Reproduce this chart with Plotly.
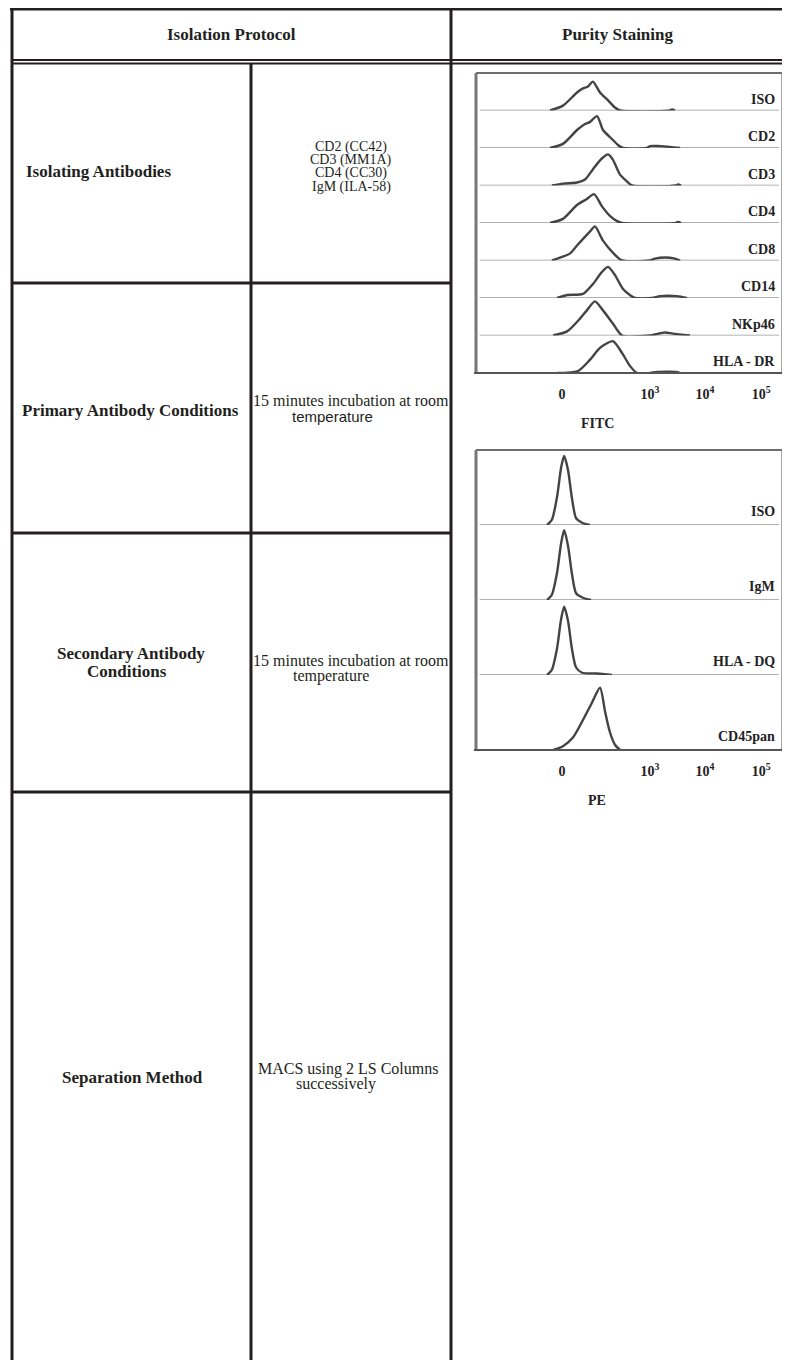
import plotly.graph_objects as go

# page offset (browser body margin) and figure size
OFF = 8
FW, FH = 782, 1352

# ---------------- data ----------------
# FITC histograms (x: display channel 0-1024, y: normalised count 0-100 per track)
fitc_labels = ["ISO", "CD2", "CD3", "CD4", "CD8", "CD14", "NKp46", "HLA - DR"]
fitc_x = [
    [248, 291, 338, 358, 375, 391, 415, 442, 465, 482, 649, 656, 666],
    [248, 291, 338, 365, 381, 405, 425, 455, 475, 492, 572, 582, 616, 649, 683],
    [254, 291, 338, 365, 391, 421, 442, 458, 482, 505, 522, 669, 676, 686],
    [248, 291, 338, 371, 395, 421, 448, 472, 489, 669, 676, 686],
    [254, 315, 338, 381, 398, 425, 458, 489, 582, 599, 632, 666, 683],
    [271, 305, 358, 391, 421, 442, 465, 492, 515, 532, 589, 616, 672, 706],
    [258, 305, 348, 371, 398, 425, 458, 489, 582, 632, 659, 716],
    [271, 341, 381, 415, 458, 489, 515, 539, 582, 606, 672, 683],
]
fitc_y = [
    [0, 13, 48, 59, 64, 77, 48, 27, 8, 0, 0, 3, 0],
    [0, 11, 48, 64, 69, 85, 48, 24, 8, 0, 0, 5, 5, 3, 0],
    [0, 5, 8, 16, 43, 72, 83, 69, 29, 11, 0, 0, 3, 0],
    [0, 11, 48, 64, 77, 45, 19, 5, 0, 0, 3, 0],
    [0, 19, 40, 77, 91, 53, 21, 0, 0, 5, 8, 5, 0],
    [0, 8, 11, 37, 69, 83, 61, 24, 8, 0, 0, 5, 5, 0],
    [0, 11, 45, 67, 91, 67, 32, 0, 0, 8, 5, 0],
    [0, 5, 35, 67, 85, 53, 19, 0, 0, 3, 3, 0],
]

# PE histograms
pe_labels = ["ISO", "IgM", "HLA - DQ", "CD45pan"]
pe_x = [
    [238, 254, 271, 285, 295, 308, 321, 335, 355, 381],
    [238, 254, 271, 285, 295, 308, 321, 335, 358, 385],
    [238, 254, 271, 285, 295, 308, 321, 335, 355, 405, 455],
    [258, 291, 325, 358, 388, 415, 432, 448, 465, 482],
]
pe_y = [
    [0, 7, 37, 77, 92, 73, 36, 9, 3, 0],
    [0, 7, 36, 76, 93, 72, 35, 9, 3, 0],
    [0, 7, 35, 75, 91, 72, 35, 10, 3, 2, 0],
    [0, 5, 17, 40, 63, 83, 51, 24, 7, 0],
]

tick_vals = [288, 582, 766, 954]
tick_text = ["<b>0</b>", "<b>10<sup>3</sup></b>", "<b>10<sup>4</sup></b>", "<b>10<sup>5</sup></b>"]
channel_range = [0, 1024]

# table text
header_left = "Isolation Protocol"
header_right = "Purity Staining"
row_titles = ["Isolating Antibodies", "Primary Antibody Conditions",
              "Secondary Antibody", "Conditions", "Separation Method"]
antibody_lines = ["CD2 (CC42)", "CD3 (MM1A)", "CD4 (CC30)", "IgM (ILA-58)"]
incubation = "15 minutes incubation at room"
temperature = "temperature"
separation = ["MACS using 2 LS Columns", "successively"]

# ---------------- helpers ----------------
def px(x):
    return (x - OFF) / FW

def py(y):
    return 1 - (y - OFF) / FH

INK = "#231f20"
SERIF = "Liberation Serif, Times New Roman, serif"
SANS = "Liberation Sans, Arial, sans-serif"

fig = go.Figure()
layout = dict(width=FW, height=FH, margin=dict(l=0, r=0, t=0, b=0),
              paper_bgcolor="white", plot_bgcolor="white", showlegend=False)

shapes = []
annotations = []

def hline(x0, x1, y, w=3, c=INK):
    shapes.append(dict(type="line", xref="paper", yref="paper", x0=px(x0), x1=px(x1),
                       y0=py(y), y1=py(y), line=dict(color=c, width=w)))

def vline(x, y0, y1, w=3, c=INK):
    shapes.append(dict(type="line", xref="paper", yref="paper", x0=px(x), x1=px(x),
                       y0=py(y0), y1=py(y1), line=dict(color=c, width=w)))

def text(x, y, s, size=16, bold=False, anchor="center", family=SERIF, color=INK):
    annotations.append(dict(xref="paper", yref="paper", x=px(x), y=py(y),
                            text=("<b>%s</b>" % s) if bold else s, showarrow=False,
                            xanchor=anchor, yanchor="middle",
                            font=dict(family=family, size=size, color=color)))

# ---------------- table ----------------
hline(10, 783, 9, 3)
hline(12, 790, 60, 2)
hline(12, 790, 63.5, 2)
vline(12, 8, 1360, 3)
vline(251, 63, 1360, 3)
vline(451, 8, 1360, 3)
for yy in [283, 533, 792]:
    hline(12, 451, yy, 3)

text(231, 35, header_left, 17, True)
text(617, 35, header_right, 17, True)

text(24, 172, row_titles[0], 17, True, anchor="left")
for i, s in enumerate(antibody_lines):
    text(351, 147 + 13.2 * i, s, 14)

text(131, 410, row_titles[1], 17, True)
text(351, 401, incubation, 16)
text(332, 416, temperature, 15, family=SANS)

text(131, 653, row_titles[2], 17, True)
text(127, 671, row_titles[3], 17, True)
text(351, 661, incubation, 16)
text(331, 676, temperature, 16)

text(132, 1077, row_titles[4], 17, True)
text(348, 1069, separation[0], 16)
text(336, 1084, separation[1], 16)

# ---------------- histogram panels ----------------
HIST_C = "#444444"
BASE_C = "#999999"

def panel(xname, labels, xs, ys, top, bottom, first_k, title, title_y):
    n = len(labels)
    th = (bottom - top) / n
    xaxis_key = "xaxis" if xname == "x" else "xaxis" + xname[1:]
    for i in range(n):
        k = first_k + i
        yname = "y" if k == 1 else "y%d" % k
        ykey = "yaxis" if k == 1 else "yaxis%d" % k
        layout[ykey] = dict(domain=[py(top + th * (i + 1)), py(top + th * i)],
                            range=[0, 100], visible=False, anchor=xname, fixedrange=True)
        fig.add_trace(go.Scatter(x=[channel_range[0] + 12, channel_range[1] - 10], y=[0, 0],
                                 xaxis=xname, yaxis=yname, mode="lines",
                                 line=dict(color=BASE_C, width=1.6), hoverinfo="skip"))
        fig.add_trace(go.Scatter(x=xs[i], y=ys[i], xaxis=xname, yaxis=yname, mode="lines",
                                 line=dict(color=HIST_C, width=2.4, shape="spline", smoothing=0.7),
                                 name=labels[i]))
        annotations.append(dict(xref=xname, yref=yname, x=1008, y=5, xanchor="right",
                                yanchor="bottom", text="<b>%s</b>" % labels[i], showarrow=False,
                                font=dict(family=SERIF, size=14, color="#222")))
    last = first_k + n - 1
    layout[xaxis_key] = dict(domain=[px(476), px(782)], range=channel_range,
                             anchor="y%d" % last, tickvals=tick_vals, ticktext=tick_text,
                             ticks="outside", ticklen=8, tickcolor="rgba(0,0,0,0)",
                             showgrid=False, zeroline=False, showline=False, fixedrange=True,
                             tickfont=dict(family=SERIF, size=14, color="#222"))
    # frame
    shapes.append(dict(type="line", xref="paper", yref="paper", x0=px(476), x1=px(782),
                       y0=py(top), y1=py(top), line=dict(color="#6e6e6e", width=2)))
    shapes.append(dict(type="line", xref="paper", yref="paper", x0=px(782), x1=px(782),
                       y0=py(top), y1=py(bottom), line=dict(color="#8a8a8a", width=1.5)))
    shapes.append(dict(type="line", xref="paper", yref="paper", x0=px(476), x1=px(476),
                       y0=py(top), y1=py(bottom + 1), line=dict(color="#777777", width=3)))
    shapes.append(dict(type="line", xref="paper", yref="paper", x0=px(474), x1=px(782),
                       y0=py(bottom), y1=py(bottom), line=dict(color="#555555", width=2)))
    annotations.append(dict(xref="paper", yref="paper", x=px(597), y=py(title_y),
                            text="<b>%s</b>" % title, showarrow=False, xanchor="center",
                            yanchor="middle", font=dict(family=SERIF, size=14, color="#222")))

panel("x", fitc_labels, fitc_x, fitc_y, 73, 373, 1, "FITC", 423)
panel("x2", pe_labels, pe_x, pe_y, 450, 750, 9, "PE", 800)

layout["shapes"] = shapes
layout["annotations"] = annotations
fig.update_layout(**layout)
fig.write_html("out.html")
